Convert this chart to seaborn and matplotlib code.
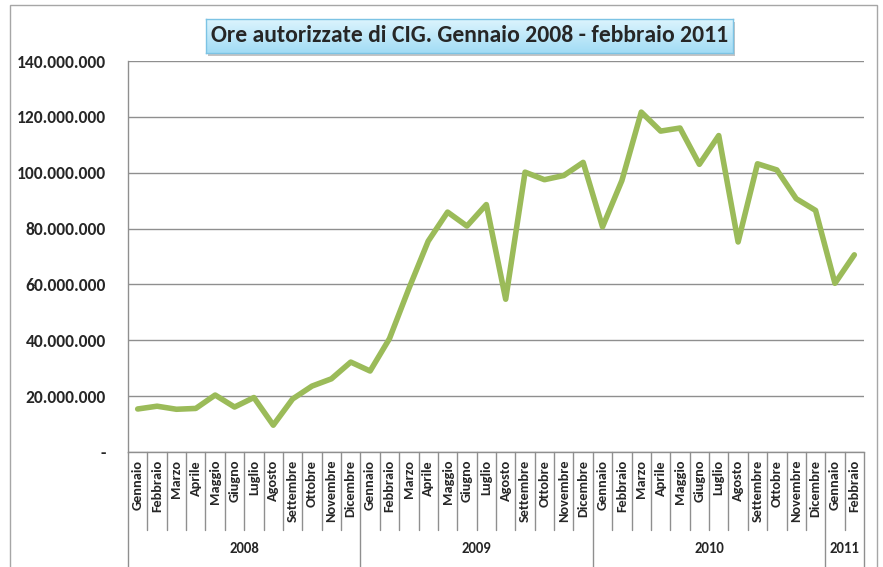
import matplotlib
matplotlib.use("Agg")
import matplotlib.pyplot as plt
import seaborn as sns
import pandas as pd
import numpy as np
from matplotlib import font_manager as fm
from matplotlib.patches import Rectangle
from matplotlib.lines import Line2D
from matplotlib.transforms import blended_transform_factory
from matplotlib.textpath import TextPath
from matplotlib.font_manager import FontProperties

# ---------------- data ----------------
months = ["Gennaio", "Febbraio", "Marzo", "Aprile", "Maggio", "Giugno", "Luglio",
          "Agosto", "Settembre", "Ottobre", "Novembre", "Dicembre"]
month_labels = months * 3 + ["Gennaio", "Febbraio"]
years = ["2008", "2009", "2010", "2011"]
months_per_year = [12, 12, 12, 2]
ore_autorizzate = [15.4, 16.4, 15.3, 15.6, 20.4, 16.1, 19.5, 9.6, 19.0, 23.6, 26.2, 32.2,
                   29.0, 40.6, 58.5, 75.5, 85.9, 80.9, 88.6, 54.7, 100.2, 97.5, 99.0, 103.7,
                   80.6, 97.2, 121.7, 114.9, 116.0, 103.0, 113.3, 75.2, 103.2, 101.0, 90.7, 86.5,
                   60.4, 70.6]  # milioni di ore
y_ticks = [0, 20e6, 40e6, 60e6, 80e6, 100e6, 120e6, 140e6]
y_tick_labels = ["-", "20.000.000", "40.000.000", "60.000.000", "80.000.000",
                 "100.000.000", "120.000.000", "140.000.000"]
title = "Ore autorizzate di CIG. Gennaio 2008 - febbraio 2011"

df = pd.DataFrame({"pos": np.arange(len(month_labels)),
                   "mese": month_labels,
                   "ore": np.array(ore_autorizzate) * 1e6})

# ---------------- style ----------------
sns.set_style("white")
available = {f.name for f in fm.fontManager.ttflist}
FONT = "DejaVu Sans"
for cand in ["Carlito", "Calibri", "Liberation Sans Narrow", "PT Sans Narrow",
             "Arial Narrow", "Lato"]:
    if cand in available:
        FONT = cand
        break
plt.rcParams["font.family"] = [FONT, "DejaVu Sans"]


def fit_size(text, target_px):
    """font size (pt) whose bold rendering is about target_px wide at dpi 100"""
    fp = FontProperties(family=FONT, weight="bold", size=10)
    w = TextPath((0, 0), text, prop=fp).get_extents().width
    w_px = w * 100 / 72
    return 10 * target_px / w_px


W, H = 883, 567
fig = plt.figure(figsize=(W / 100, H / 100), dpi=100)


def fx(x):
    return x / W


def fy(y):
    return 1 - y / H


GRID = "#8f8f8f"
L, R, T, B = 128, 864, 61, 452
ax = fig.add_axes([fx(L), fy(B), (R - L) / W, (B - T) / H])

sns.lineplot(data=df, x="pos", y="ore", ax=ax, color="#9BBB59", linewidth=4,
             solid_capstyle="round", solid_joinstyle="round")

ytick_fs = fit_size("140.000.000", 88)
month_fs = fit_size("Settembre", 62)
year_fs = fit_size("2008", 29)
title_fs = fit_size(title, 516)

ax.set_xlim(-0.5, len(month_labels) - 0.5)
ax.set_ylim(0, 140e6)
ax.set_yticks(y_ticks)
ax.set_yticklabels(y_tick_labels, fontweight="bold", fontsize=ytick_fs)
ax.set_xticks([])
ax.set_xlabel("")
ax.set_ylabel("")
ax.yaxis.grid(True, color=GRID, linewidth=1)
ax.set_axisbelow(True)
for s in ["top", "right"]:
    ax.spines[s].set_visible(False)
for s in ["left", "bottom"]:
    ax.spines[s].set_color(GRID)
    ax.spines[s].set_linewidth(1)
ax.tick_params(axis="y", length=5, color=GRID, width=1, pad=11)

# ---------------- multi-level category axis ----------------
hpx = B - T
tr = blended_transform_factory(ax.transData, ax.transAxes)


def ay(ypx):
    return -(ypx - B) / hpx


boundaries = np.cumsum([0] + months_per_year)
n = len(month_labels)
for i in range(n + 1):
    xb = i - 0.5
    bottom = 570 if i in boundaries else 530
    ax.add_line(Line2D([xb, xb], [0, ay(bottom)], transform=tr, color=GRID,
                       linewidth=1, clip_on=False))

for i, lab in enumerate(month_labels):
    ax.text(i, ay(460), lab, transform=tr, rotation=90, ha="center", va="top",
            fontsize=month_fs, fontweight="bold")

for k, yr in enumerate(years):
    c = (boundaries[k] + boundaries[k + 1] - 1) / 2
    ax.text(c, ay(549), yr, transform=tr, ha="center", va="center",
            fontsize=year_fs, fontweight="bold")

# ---------------- outer border ----------------
fig.add_artist(Rectangle((fx(10), fy(580)), (877 - 10) / W, (580 - 5) / H,
                         transform=fig.transFigure, fill=False,
                         edgecolor="#a6a6a6", linewidth=1, zorder=0))

# ---------------- title box ----------------
bx0, bx1, by0, by1 = 206, 733, 19, 53
fig.add_artist(Rectangle((fx(bx0 + 2), fy(by1 + 3)), (bx1 - bx0) / W, (by1 - by0) / H,
                         transform=fig.transFigure, facecolor="#c4c4c4",
                         edgecolor="none", zorder=4))
tax = fig.add_axes([fx(bx0), fy(by1), (bx1 - bx0) / W, (by1 - by0) / H])
tax.set_zorder(5)
grad = np.linspace(0, 1, 64).reshape(-1, 1)
top_c = np.array([0xdc, 0xf4, 0xfd]) / 255
bot_c = np.array([0xa2, 0xdc, 0xf5]) / 255
img = top_c[None, None, :] * (1 - grad[:, :, None]) + bot_c[None, None, :] * grad[:, :, None]
tax.imshow(img, aspect="auto", extent=[0, 1, 0, 1])
tax.set_xlim(0, 1)
tax.set_ylim(0, 1)
tax.set_xticks([])
tax.set_yticks([])
for s in tax.spines.values():
    s.set_color("#7cc3e4")
    s.set_linewidth(1)
tax.text(0.5, 0.5, title, ha="center", va="center", fontsize=title_fs,
         fontweight="bold", transform=tax.transAxes)

fig.savefig("out.png", dpi=100)
